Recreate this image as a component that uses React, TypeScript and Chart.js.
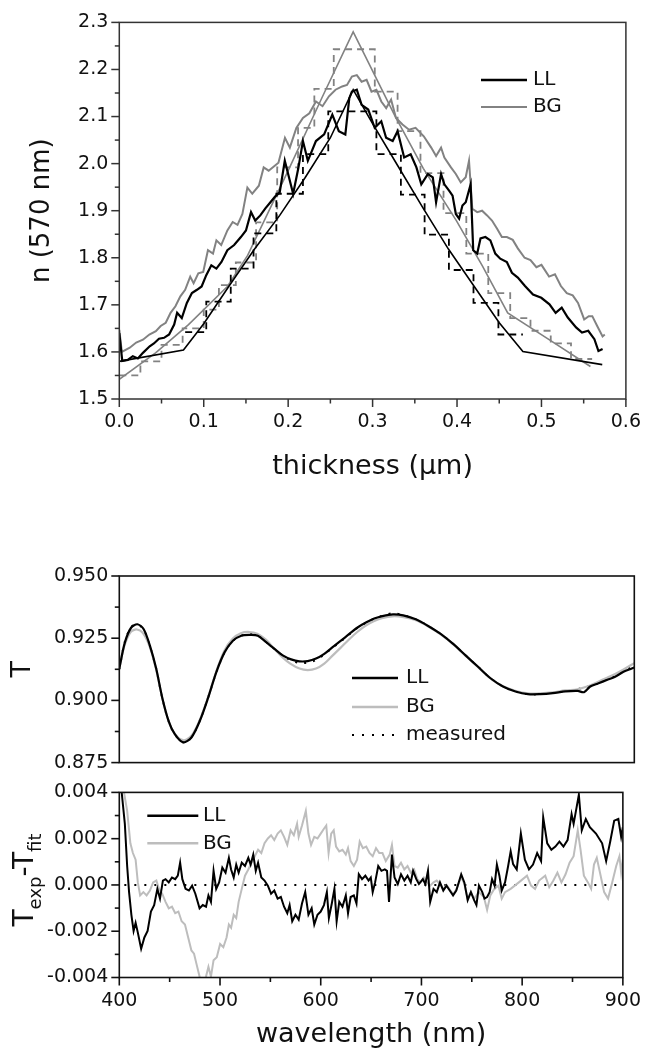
import React, { useEffect, useRef } from "react";
import { Chart, registerables } from "chart.js";

Chart.register(...registerables);

const FONT = "'DejaVu Sans', 'Liberation Sans', Arial, sans-serif";
const INK = "#111111";

// ================= Panel 1: n(570 nm) vs thickness =================
const thicknessTicks = [0, 0.1, 0.2, 0.3, 0.4, 0.5, 0.6];
const thicknessMinor = [0.05, 0.15, 0.25, 0.35, 0.45, 0.55];
const nTicks = [1.5, 1.6, 1.7, 1.8, 1.9, 2.0, 2.1, 2.2, 2.3];
const nMinor = [1.55, 1.65, 1.75, 1.85, 1.95, 2.05, 2.15, 2.25];

const llProfile: number[][] = [
  [0.0, 1.64], [0.0035, 1.581], [0.01, 1.583], [0.016, 1.591], [0.022, 1.586], [0.028, 1.598],
  [0.036, 1.612], [0.041, 1.618], [0.047, 1.628], [0.053, 1.63], [0.059, 1.637], [0.065, 1.658],
  [0.0685, 1.683], [0.074, 1.672], [0.08, 1.704], [0.086, 1.725], [0.092, 1.732], [0.0975, 1.739],
  [0.103, 1.763], [0.109, 1.784], [0.115, 1.777], [0.121, 1.791], [0.128, 1.816], [0.136, 1.827],
  [0.144, 1.844], [0.15, 1.858], [0.156, 1.897], [0.161, 1.879], [0.167, 1.89], [0.173, 1.905],
  [0.179, 1.918], [0.1845, 1.93], [0.19, 1.939], [0.196, 2.006], [0.2059, 1.936], [0.212, 1.99],
  [0.2175, 2.048], [0.2233, 2.006], [0.2329, 2.048], [0.2426, 2.062], [0.2523, 2.104], [0.26, 2.069],
  [0.2677, 2.062], [0.2724, 2.139], [0.2755, 2.153], [0.2813, 2.157], [0.287, 2.125], [0.2948, 2.115],
  [0.3025, 2.076], [0.3103, 2.09], [0.316, 2.055], [0.3238, 2.048], [0.3296, 2.069], [0.3374, 2.013],
  [0.3451, 2.02], [0.3519, 1.992], [0.3577, 1.956], [0.3655, 1.978], [0.3713, 1.971], [0.3752, 1.918],
  [0.3811, 1.978], [0.385, 1.956], [0.3908, 1.942], [0.3947, 1.932], [0.3986, 1.893], [0.4025, 1.883],
  [0.4064, 1.911], [0.4103, 1.918], [0.4161, 1.956], [0.4192, 1.816], [0.4239, 1.809], [0.4278, 1.841],
  [0.4336, 1.844], [0.4395, 1.837], [0.4453, 1.809], [0.4512, 1.798], [0.459, 1.791], [0.465, 1.768],
  [0.472, 1.758], [0.4805, 1.74], [0.49, 1.722], [0.4998, 1.715], [0.5095, 1.701], [0.5168, 1.683],
  [0.524, 1.694], [0.5312, 1.673], [0.541, 1.652], [0.548, 1.641], [0.5554, 1.645], [0.5627, 1.627],
  [0.5675, 1.602], [0.5724, 1.606],
];

const bgProfile: number[][] = [
  [0.0, 1.647], [0.003, 1.6], [0.0124, 1.609], [0.02, 1.62], [0.028, 1.626], [0.0356, 1.637],
  [0.0433, 1.644], [0.049, 1.655], [0.055, 1.662], [0.0607, 1.683], [0.0665, 1.697], [0.0723, 1.718],
  [0.078, 1.732], [0.084, 1.76], [0.088, 1.746], [0.0936, 1.767], [0.0994, 1.77], [0.105, 1.816],
  [0.111, 1.809], [0.115, 1.837], [0.1207, 1.827], [0.128, 1.858], [0.1343, 1.876], [0.14, 1.87],
  [0.1458, 1.893], [0.1517, 1.949], [0.1575, 1.936], [0.1653, 1.953], [0.171, 1.992], [0.1769, 1.985],
  [0.1885, 2.002], [0.1962, 2.055], [0.202, 2.034], [0.2097, 2.076], [0.2175, 2.097], [0.2251, 2.107],
  [0.2329, 2.132], [0.2407, 2.122], [0.2483, 2.143], [0.2561, 2.157], [0.2639, 2.164], [0.2697, 2.167],
  [0.2755, 2.185], [0.2813, 2.188], [0.287, 2.174], [0.2929, 2.178], [0.2987, 2.153], [0.3045, 2.157],
  [0.3103, 2.132], [0.3161, 2.118], [0.3219, 2.136], [0.3277, 2.097], [0.3354, 2.083], [0.3432, 2.072],
  [0.3509, 2.076], [0.3606, 2.058], [0.3694, 2.034], [0.3752, 2.016], [0.3811, 2.034], [0.385, 2.013],
  [0.3928, 1.992], [0.3986, 1.978], [0.4044, 1.96], [0.4103, 1.971], [0.4142, 2.006], [0.4181, 1.904],
  [0.4239, 1.897], [0.4297, 1.9], [0.4356, 1.89], [0.4414, 1.879], [0.4473, 1.862], [0.4531, 1.844],
  [0.459, 1.844], [0.466, 1.838], [0.472, 1.82], [0.48, 1.8], [0.487, 1.795], [0.494, 1.78],
  [0.5, 1.785], [0.509, 1.76], [0.516, 1.765], [0.523, 1.74], [0.53, 1.725], [0.537, 1.72],
  [0.5433, 1.704], [0.5506, 1.669], [0.556, 1.676], [0.5602, 1.676], [0.566, 1.655], [0.5724, 1.633],
  [0.575, 1.637],
];

const llModel: number[][] = [
  [0, 1.58], [0.076, 1.604], [0.1, 1.66], [0.13, 1.74], [0.16, 1.818], [0.19, 1.89], [0.22, 1.97],
  [0.25, 2.055], [0.277, 2.157], [0.3, 2.085], [0.33, 1.995], [0.36, 1.905], [0.39, 1.818],
  [0.42, 1.74], [0.45, 1.662], [0.478, 1.601], [0.572, 1.573],
];

const bgModel: number[][] = [
  [0, 1.542], [0.043, 1.598], [0.082, 1.658], [0.128, 1.739], [0.152, 1.805], [0.2, 1.985],
  [0.24, 2.14], [0.277, 2.28], [0.3257, 2.104], [0.36, 1.99], [0.3992, 1.879], [0.43, 1.783],
  [0.46, 1.683], [0.51, 1.625], [0.558, 1.569],
];

const llLayerEdges = [0.078, 0.103, 0.132, 0.159, 0.186, 0.2175, 0.2475, 0.3045, 0.3335, 0.3616, 0.3904, 0.4195, 0.449, 0.478];
const llLayerN = [1.642, 1.707, 1.777, 1.852, 1.936, 2.02, 2.111, 2.02, 1.934, 1.849, 1.774, 1.704, 1.637];

const bgLayerEdges = [0, 0.025, 0.05, 0.075, 0.1, 0.118, 0.138, 0.162, 0.187, 0.2117, 0.231, 0.254, 0.3026, 0.3296, 0.3567, 0.384, 0.411, 0.437, 0.463, 0.487, 0.511, 0.535, 0.56];
const bgLayerN = [1.55, 1.58, 1.615, 1.65, 1.69, 1.742, 1.79, 1.875, 1.992, 2.076, 2.159, 2.243, 2.153, 2.069, 1.98, 1.895, 1.809, 1.725, 1.672, 1.645, 1.618, 1.585];

// ================= Panel 2: T vs wavelength =================
const wlTicks = [400, 500, 600, 700, 800, 900];
const wlMinor = [450, 550, 650, 750, 850];
const tTicks = [0.875, 0.9, 0.925, 0.95];
const tMinor = [0.8875, 0.9125, 0.9375];

const llTransmission: number[][] = [
  [400, 0.9128], [405.5, 0.9234], [411.6, 0.9293], [417.6, 0.9306], [423.7, 0.9286], [429.7, 0.922],
  [435.8, 0.9128], [441.8, 0.9009], [447.9, 0.8917], [453.9, 0.8864], [462, 0.8831], [470, 0.8851],
  [478.1, 0.8917], [486.1, 0.9009], [494.3, 0.9115], [502.3, 0.9194], [510.3, 0.924], [518.4, 0.926],
  [526.5, 0.9263], [534.5, 0.926], [542.6, 0.9234], [550.7, 0.9207], [558.7, 0.9181], [566.8, 0.9165],
  [574.9, 0.9157], [582.9, 0.9158], [591, 0.9168], [599, 0.9187], [607.1, 0.9214], [615.2, 0.924],
  [623.3, 0.9267], [631.3, 0.9293], [639.4, 0.9313], [647.5, 0.9329], [655.5, 0.9339], [665.6, 0.9346],
  [675.7, 0.9342], [687.8, 0.9326], [699.9, 0.9299], [712, 0.9267], [724.1, 0.9227], [736.2, 0.9181],
  [748.3, 0.9135], [760.4, 0.9089], [772.5, 0.9056], [784.6, 0.9036], [796.7, 0.9025], [808.8, 0.9025],
  [820.9, 0.9029], [833, 0.9036], [845.1, 0.9038], [851.1, 0.9033], [857.2, 0.9056], [865.3, 0.9069],
  [873.3, 0.9082], [881.4, 0.9095], [889.5, 0.9115], [897.5, 0.9128], [900, 0.9132],
];

const bgTransmission: number[][] = [
  [400, 0.913], [405, 0.922], [411, 0.9275], [417, 0.9285], [423, 0.927], [430, 0.921], [436, 0.912],
  [442, 0.9005], [448, 0.8915], [454, 0.8865], [462, 0.884], [470, 0.8858], [478, 0.892], [486, 0.901],
  [494, 0.9115], [502, 0.92], [510, 0.9248], [518, 0.927], [526, 0.9275], [534, 0.9268], [542, 0.9245],
  [550, 0.921], [558, 0.9175], [566, 0.9148], [575, 0.9128], [583, 0.9122], [591, 0.9128], [599, 0.9148],
  [607, 0.918], [615, 0.9212], [623, 0.9245], [631, 0.9275], [639, 0.93], [647, 0.9318], [655, 0.933],
  [665, 0.9338], [676, 0.9335], [688, 0.9322], [700, 0.9297], [712, 0.9265], [724, 0.9226], [736, 0.918],
  [748, 0.9135], [760, 0.909], [772, 0.9058], [785, 0.9038], [797, 0.9028], [809, 0.9028], [821, 0.9032],
  [833, 0.904], [845, 0.9045], [857, 0.906], [865, 0.9075], [873, 0.909], [881, 0.9105], [890, 0.9125],
  [900, 0.915],
];

const measuredTransmission: number[][] = [
  [400, 0.9125], [405.5, 0.9238], [411.6, 0.9295], [417.6, 0.9305], [423.7, 0.9284], [429.7, 0.9218],
  [435.8, 0.9127], [441.8, 0.9008], [447.9, 0.8916], [453.9, 0.8863], [462, 0.8832], [470, 0.8852],
  [478.1, 0.8918], [486.1, 0.901], [494.3, 0.9114], [502.3, 0.9194], [510.3, 0.924], [518.4, 0.926],
  [526.5, 0.9266], [534.5, 0.9262], [542.6, 0.9235], [550.7, 0.9206], [558.7, 0.9178], [566.8, 0.9162],
  [574.9, 0.915], [582.9, 0.9152], [591, 0.9162], [599, 0.9185], [607.1, 0.9212], [615.2, 0.9238],
  [623.3, 0.9265], [631.3, 0.9292], [639.4, 0.9312], [647.5, 0.9329], [655.5, 0.934], [665.6, 0.935],
  [675.7, 0.9343], [687.8, 0.9326], [699.9, 0.9299], [712, 0.9267], [724.1, 0.9227], [736.2, 0.9181],
  [748.3, 0.9135], [760.4, 0.9089], [772.5, 0.9056], [784.6, 0.9036], [796.7, 0.9025], [808.8, 0.9025],
  [820.9, 0.903], [833, 0.9038], [845.1, 0.9045], [851.1, 0.9052], [857.2, 0.9058], [865.3, 0.907],
  [873.3, 0.9085], [881.4, 0.9098], [889.5, 0.9118], [897.5, 0.9135], [900, 0.915],
];

// ================= Panel 3: Texp - Tfit (values in units of 1e-3) =================
const resTicks = [-0.004, -0.002, 0, 0.002, 0.004];
const resMinor = [-0.003, -0.001, 0.001, 0.003];

const llResidual: number[][] = [
  [400, 6], [402.3, 4.03], [405.5, 2.64], [407.8, 0.82], [409.7, -0.31], [412, -1.29], [414.2, -1.99],
  [416.2, -1.64], [418.4, -2.06], [421.7, -2.76], [424.9, -2.27], [428.1, -1.99], [431.4, -1.15],
  [434.6, -0.87], [437.8, -0.17], [440.4, -0.59], [443.3, 0.19], [445.9, 0.25], [449.1, 0.11],
  [452.3, 0.32], [455.5, 0.25], [458.1, 0.4], [460.4, 0.96], [462.6, 0.25], [465.8, -0.17],
  [469.1, -0.24], [472.3, -0.03], [475.5, -0.38], [479.7, -1.01], [482.9, -0.87], [486.1, -0.94],
  [488.5, -0.45], [491, -0.73], [493.6, 0.61], [496.2, -0.17], [499.1, 0.11], [502.3, 0.75],
  [505.5, 0.53], [508.8, 1.17], [511, 0.67], [513.6, 0.32], [516.1, 0.88], [518.5, 0.53], [521.6, 0.96],
  [524.8, 0.82], [528.1, 1.17], [530.4, 0.88], [533, 1.31], [535.5, 0.61], [537.8, 0.96], [541, 0.32],
  [544.2, 0.19], [547.5, -0.03], [550.7, -0.38], [553.9, -0.24], [557.2, -0.59], [560.4, -0.52],
  [563.6, -0.94], [566.8, -1.22], [569.1, -0.87], [571.7, -1.57], [574.9, -1.29], [578.1, -1.5],
  [581.4, -0.8], [584.6, -0.31], [587.8, -1.29], [591, -1.01], [593.6, -1.71], [596.8, -1.29],
  [600, -1.15], [603.2, -0.87], [606.1, -0.31], [608.1, -1.43], [611, -0.8], [613.6, -0.17],
  [615.8, -1.57], [618.4, -0.73], [621.6, -0.94], [624.9, -0.45], [627.1, -1.22], [629.7, -0.52],
  [632.9, -0.45], [635.5, -0.8], [637.8, 0.46], [641, 0.25], [644.3, 0.4], [647.5, 0.19], [649.7, 0.32],
  [651.6, -0.31], [654, 0.11], [657.1, 0.82], [660.3, 0.61], [663.6, 0.67], [665.8, 0.61], [667.8, -0.73],
  [670.7, 1.31], [673.3, 0.32], [676.5, 0.04], [679.7, 0.46], [683, 0.19], [686.2, 0.4], [689.4, 0.11],
  [691.7, 0.61], [694.9, 0.25], [697.5, 0.04], [701.4, 0.25], [703.9, 0.04], [706.5, 0.61],
  [708.7, -0.73], [712, -0.17], [715.2, -0.31], [718.4, 0.11], [721.7, -0.24], [724.9, -0.03],
  [728.1, -0.24], [731.4, -0.45], [734.6, -0.24], [739.5, 0.46], [742.6, 0.11], [745.9, -0.66],
  [749.1, -0.31], [752.3, -0.66], [754.6, -0.87], [757.1, -0.03], [760.4, -0.31], [762.6, -0.59],
  [765.2, -0.52], [767.7, -0.31], [770.1, 0.25], [772.6, -0.03], [774.9, 0.88], [777.4, 0.4],
  [779.7, -0.24], [783, 0.11], [786, 0.8], [788.6, 1.45], [791, 0.9], [794.6, 0.67], [798.7, 2.22],
  [802.7, 1.09], [806.8, 0.67], [810.8, 0.88], [814.9, 1.38], [818.8, 1.03], [820.9, 2.92], [824.9, 1.8],
  [829, 1.52], [833, 1.66], [837, 1.87], [841, 1.66], [845.1, 1.94], [849.1, 3.06], [851.1, 2.64],
  [854, 3.34], [856.3, 3.9], [859.2, 2.36], [863.2, 2.85], [867.2, 2.5], [873.3, 2.22], [879.4, 1.8],
  [883.4, 1.03], [887.4, 1.87], [891.4, 2.78], [895.5, 2.85], [898.3, 2.08], [900, 2.5],
];

const bgResidual: number[][] = [
  [400, 9], [403.9, 4.2], [407.8, 3.2], [411, 1.8], [413.5, 1.38], [416.2, 1.09], [418.4, 0.11],
  [420.7, -0.45], [423.9, -0.31], [427.1, -0.45], [430.4, -0.24], [433.6, 0.11], [436.8, 0.19],
  [439.4, -0.17], [442.6, -0.38], [445.9, -0.73], [449.1, -1.01], [452.3, -0.94], [455.5, -1.22],
  [458.7, -1.15], [461.9, -1.57], [465.2, -1.71], [468.4, -2.27], [471.6, -2.83], [474.2, -2.97],
  [476.5, -3.39], [479.7, -3.96], [482.9, -4.3], [486.1, -3.96], [488.5, -3.54], [491, -3.96],
  [493.6, -3.25], [496.8, -3.12], [500.1, -2.55], [503.3, -2.69], [506.5, -2.27], [508.8, -1.71],
  [511, -1.85], [513.6, -1.29], [516.1, -1.43], [518.5, -0.73], [521.6, -0.17], [524.8, 0.4],
  [528.1, 0.67], [531.3, 0.96], [534.5, 1.24], [537.8, 1.52], [541, 1.38], [544.2, 1.8], [547.5, 2.01],
  [550.7, 2.15], [553.9, 1.94], [557.2, 2.22], [560.4, 2.36], [563.6, 2.08], [566.8, 1.73],
  [570.1, 2.36], [573.3, 2.15], [576.5, 2.64], [578.1, 2.08], [581.4, 2.57], [585.2, 3.2], [587.8, 2.22],
  [590.4, 1.73], [593.6, 2.08], [596.8, 2.01], [600, 2.22], [603.2, 2.43], [605.5, 2.57], [607.8, 1.38],
  [610.4, 2.22], [612.9, 2.36], [615.2, 1.66], [618.4, 1.45], [621.6, 1.52], [624.9, 1.31], [627.1, 1.59],
  [629.7, 1.03], [632.9, 0.82], [636.1, 1.09], [638.7, 1.87], [641.9, 1.59], [645.2, 1.66], [648.4, 1.38],
  [651.6, 1.24], [654.9, 1.59], [658.1, 1.38], [661.3, 1.38], [664.6, 1.03], [668.5, 1.31], [670.7, 1.73],
  [673.3, 0.82], [676.5, 0.75], [679.7, 0.96], [683, 0.67], [686.2, 0.82], [689.4, 0.53], [692.7, 0.67],
  [695.9, 0.25], [699.1, 0.11], [702.4, 0.32], [705.6, 0.11], [708.7, -0.03], [712, 0.11], [715.2, 0.19],
  [718.4, 0.04], [721.7, -0.2], [724.9, 0.0], [728.1, -0.2], [731.4, -0.4], [734.6, -0.2], [739.5, 0.35],
  [742.6, 0.05], [745.9, -0.6], [749.1, -0.3], [752.3, -0.6], [757, -0.31], [762, -0.52], [765.2, -1.08],
  [768.4, -0.45], [772.3, -0.17], [776.5, -0.03], [779.7, -0.59], [783, -0.31], [788.6, -0.17],
  [796.7, 0.11], [804.8, 0.4], [808.8, -0.03], [812.8, -0.17], [816.8, 0.19], [822.9, 0.4], [826.9, -0.1],
  [831, 0.19], [835, 0.53], [839, 0.11], [843.1, 0.46], [847.1, 0.96], [851.1, 1.24], [855.2, 2.36],
  [858, 1.52], [861.3, 0.4], [865.3, 0.11], [868.5, -0.17], [871.3, 0.88], [874.1, 1.17], [877.3, 0.53],
  [881.4, -0.31], [885.3, -0.59], [889.4, 0.11], [893.4, 0.82], [896.6, 1.24], [898.3, 0.53], [900, 1.1],
];

const zeroLine: number[][] = [[405, 0], [900, 0]];

// ================= helpers =================
const toPoints = (arr: number[][], yScale = 1) => arr.map(([x, y]) => ({ x, y: y * yScale }));
const toSteps = (edges: number[], vals: number[]) => {
  const out = vals.map((v, i) => ({ x: edges[i], y: v }));
  out.push({ x: edges[edges.length - 1], y: vals[vals.length - 1] });
  return out;
};

const line = (data: any[], color: string, width: number, dash: number[] = [], stepped = false, tension = 0) => ({
  data,
  borderColor: color,
  backgroundColor: color,
  borderWidth: width,
  borderDash: dash,
  pointRadius: 0,
  pointHoverRadius: 0,
  fill: false,
  stepped: stepped ? true : false,
  tension,
});

const tickFont = { family: FONT, size: 19 };

const axis = (min: number, max: number, ticks: number[], decimals: number, extra: any) => ({
  type: "linear",
  min,
  max,
  grid: { display: false, drawTicks: false },
  border: { display: false },
  afterBuildTicks: (s: any) => {
    s.ticks = ticks.map((v) => ({ value: v }));
  },
  ticks: {
    autoSkip: false,
    maxRotation: 0,
    minRotation: 0,
    padding: 11,
    color: INK,
    font: tickFont,
    callback: (v: any) => Number(v).toFixed(decimals),
  },
  ...extra,
});

const xTicks = (decimals: number) => ({
  autoSkip: false, maxRotation: 0, minRotation: 0, padding: 12, color: INK,
  font: tickFont, callback: (v: any) => Number(v).toFixed(decimals),
});

const titleFont = { family: FONT, size: 27 };
const yTitleFont = { family: FONT, size: 26 };

type LegendItem = { label: string; color: string; width: number; dash?: number[]; x1: number; x2: number; y: number; tx: number };
type Deco = {
  frameColor: string;
  frameWidth: number;
  xMajor: number[];
  xMinor: number[];
  yMajor: number[];
  yMinor: number[];
  legend: LegendItem[];
  subTitle?: { cx: number; cy: number; parts: { text: string; size: number; sub: boolean }[] };
};

const decoPlugin = (d: Deco) => ({
  id: "deco",
  afterDraw(chart: any) {
    const { ctx, chartArea: a, scales } = chart;
    const xs = scales.x;
    const ys = scales.y;
    const seg = (x1: number, y1: number, x2: number, y2: number) => {
      ctx.beginPath();
      ctx.moveTo(x1, y1);
      ctx.lineTo(x2, y2);
      ctx.stroke();
    };
    ctx.save();
    ctx.setLineDash([]);
    ctx.strokeStyle = d.frameColor;
    ctx.lineWidth = d.frameWidth;
    ctx.strokeRect(a.left, a.top, a.right - a.left, a.bottom - a.top);
    d.xMajor.forEach((v) => { const p = xs.getPixelForValue(v); seg(p, a.bottom, p, a.bottom + 8); });
    d.xMinor.forEach((v) => { const p = xs.getPixelForValue(v); seg(p, a.bottom, p, a.bottom + 4.5); });
    d.yMajor.forEach((v) => { const p = ys.getPixelForValue(v); seg(a.left - 8, p, a.left, p); });
    d.yMinor.forEach((v) => { const p = ys.getPixelForValue(v); seg(a.left - 4.5, p, a.left, p); });

    ctx.font = `20px ${FONT}`;
    ctx.textBaseline = "middle";
    ctx.textAlign = "left";
    ctx.fillStyle = INK;
    d.legend.forEach((it) => {
      ctx.strokeStyle = it.color;
      ctx.lineWidth = it.width;
      ctx.setLineDash(it.dash || []);
      seg(it.x1, it.y, it.x2, it.y);
      ctx.setLineDash([]);
      ctx.fillText(it.label, it.tx, it.y);
    });

    if (d.subTitle) {
      const { cx, cy, parts } = d.subTitle;
      ctx.save();
      ctx.translate(cx, cy);
      ctx.rotate(-Math.PI / 2);
      let total = 0;
      parts.forEach((p) => { ctx.font = `${p.size}px ${FONT}`; total += ctx.measureText(p.text).width; });
      let x = -total / 2;
      ctx.textAlign = "left";
      ctx.textBaseline = "alphabetic";
      ctx.fillStyle = INK;
      parts.forEach((p) => {
        ctx.font = `${p.size}px ${FONT}`;
        ctx.fillText(p.text, x, p.sub ? 18 : 10);
        x += ctx.measureText(p.text).width;
      });
      ctx.restore();
    }
    ctx.restore();
  },
});

const baseOptions = (padding: any) => ({
  responsive: false,
  maintainAspectRatio: false,
  animation: false,
  devicePixelRatio: 1,
  events: [],
  layout: { padding },
  plugins: { legend: { display: false }, tooltip: { enabled: false } },
});

// ================= chart configs =================
const GRAY_TOP = "#828282";
const GRAY_LIGHT = "#bdbdbd";

const profileConfig = () => ({
  type: "line",
  data: {
    datasets: [
      line(toPoints(llProfile), "#000", 2.2),
      line(toPoints(llModel), "#000", 1.6),
      line(toSteps(llLayerEdges, llLayerN), "#000", 1.8, [7, 5], true),
      line(toPoints(bgProfile), GRAY_TOP, 2),
      line(toPoints(bgModel), GRAY_TOP, 1.6),
      line(toSteps(bgLayerEdges, bgLayerN), GRAY_TOP, 1.8, [7, 5], true),
    ],
  },
  options: {
    ...baseOptions({ left: 23, top: 20.5, right: 18.7, bottom: 0 }),
    scales: {
      x: axis(0, 0.6, thicknessTicks, 1, {
        ticks: xTicks(1),
        title: { display: true, text: "thickness (μm)", color: INK, font: titleFont, padding: { top: 0, bottom: 6.8 } },
        afterFit: (s: any) => { s.height = 91; },
      }),
      y: axis(1.5, 2.3, nTicks, 1, {
        title: { display: true, text: "n (570 nm)", color: INK, font: yTitleFont, padding: { top: 4, bottom: 0 } },
        afterFit: (s: any) => { s.width = 96.3; },
      }),
    },
  },
  plugins: [
    decoPlugin({
      frameColor: "#333",
      frameWidth: 1.5,
      xMajor: thicknessTicks,
      xMinor: thicknessMinor,
      yMajor: nTicks,
      yMinor: nMinor,
      legend: [
        { label: "LL", color: "#000", width: 2.5, x1: 481, x2: 527, y: 80, tx: 533 },
        { label: "BG", color: GRAY_TOP, width: 2, x1: 481, x2: 527, y: 107, tx: 533 },
      ],
    }),
  ],
});

const transmissionConfig = () => ({
  type: "line",
  data: {
    datasets: [
      line(toPoints(llTransmission), "#000", 2.2, [], false, 0.3),
      line(toPoints(bgTransmission), GRAY_LIGHT, 2.2, [], false, 0.3),
      line(toPoints(measuredTransmission), "#000", 2, [2, 7], false, 0.3),
    ],
  },
  options: {
    ...baseOptions({ left: 0, top: 26, right: 18.7, bottom: 19.5 }),
    scales: {
      x: axis(400, 900, wlTicks, 0, { display: false }),
      y: axis(0.875, 0.95, tTicks, 3, {
        title: { display: true, text: "T", color: INK, font: titleFont, padding: { top: 6.8, bottom: 0 } },
        afterFit: (s: any) => { s.width = 119.3; },
      }),
    },
  },
  plugins: [
    decoPlugin({
      frameColor: "#111",
      frameWidth: 1.6,
      xMajor: [],
      xMinor: [],
      yMajor: tTicks,
      yMinor: tMinor,
      legend: [
        { label: "LL", color: "#000", width: 2.5, x1: 352, x2: 398, y: 128, tx: 406 },
        { label: "BG", color: GRAY_LIGHT, width: 2.5, x1: 352, x2: 398, y: 157, tx: 406 },
        { label: "measured", color: "#000", width: 2, dash: [2, 8], x1: 352, x2: 398, y: 185, tx: 406 },
      ],
    }),
  ],
});

const residualConfig = () => ({
  type: "line",
  data: {
    datasets: [
      line(toPoints(llResidual, 0.001), "#000", 2),
      line(toPoints(bgResidual, 0.001), GRAY_LIGHT, 2),
      line(toPoints(zeroLine), "#000", 2, [2, 8]),
    ],
  },
  options: {
    ...baseOptions({ left: 0, top: 17.3, right: 18.7, bottom: 0 }),
    scales: {
      x: axis(400, 900, wlTicks, 0, {
        ticks: xTicks(0),
        title: { display: true, text: "wavelength (nm)", color: INK, font: titleFont, padding: { top: 0, bottom: 3.8 } },
        afterFit: (s: any) => { s.height = 77.5; },
      }),
      y: axis(-0.004, 0.004, resTicks, 3, {
        afterFit: (s: any) => { s.width = 119.3; },
      }),
    },
  },
  plugins: [
    decoPlugin({
      frameColor: "#111",
      frameWidth: 1.6,
      xMajor: wlTicks,
      xMinor: wlMinor,
      yMajor: resTicks,
      yMinor: resMinor,
      legend: [
        { label: "LL", color: "#000", width: 2.5, x1: 147.3, x2: 198.3, y: 45.7, tx: 203 },
        { label: "BG", color: GRAY_LIGHT, width: 2.5, x1: 147.3, x2: 198.3, y: 73.3, tx: 203 },
      ],
      subTitle: {
        cx: 22.7,
        cy: 110,
        parts: [
          { text: "T", size: 28, sub: false },
          { text: "exp", size: 18, sub: true },
          { text: "-T", size: 28, sub: false },
          { text: "fit", size: 18, sub: true },
        ],
      },
    }),
  ],
});

function ChartCanvas({ top, height, build }: { top: number; height: number; build: () => any }) {
  const ref = useRef<HTMLCanvasElement | null>(null);
  useEffect(() => {
    if (!ref.current) return;
    const chart = new Chart(ref.current, build());
    return () => chart.destroy();
  }, []);
  return (
    <canvas
      ref={ref}
      width={653}
      height={height}
      style={{ position: "absolute", left: 0, top, width: 653, height }}
    />
  );
}

export default function App() {
  return (
    <div style={{ position: "absolute", left: 0, top: 0, width: 653, height: 1055, background: "#fff", overflow: "hidden" }}>
      <ChartCanvas top={0} height={490} build={profileConfig} />
      <ChartCanvas top={550} height={235} build={transmissionConfig} />
      <ChartCanvas top={770} height={285} build={residualConfig} />
    </div>
  );
}
